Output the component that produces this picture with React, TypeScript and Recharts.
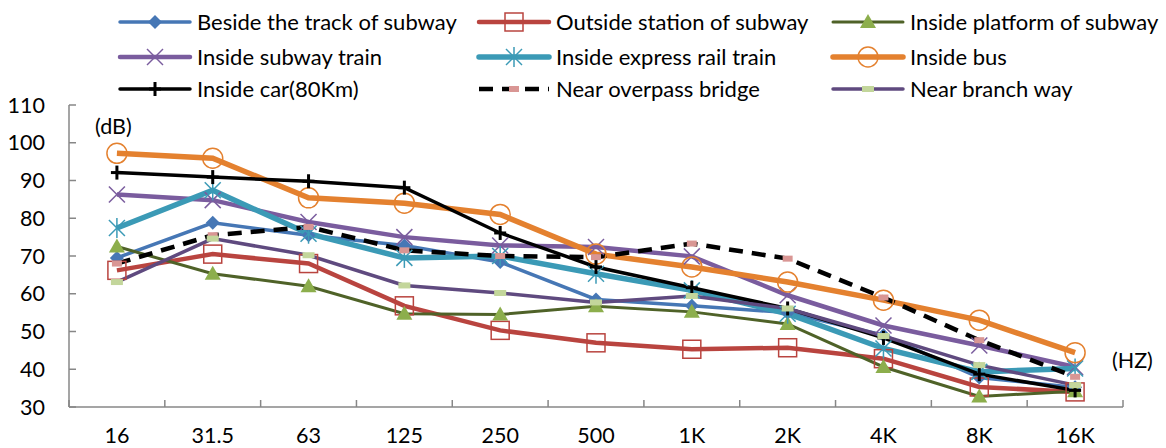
import React from 'react'
import { LineChart, Line, XAxis, YAxis } from 'recharts'

const categories = ['16', '31.5', '63', '125', '250', '500', '1K', '2K', '4K', '8K', '16K']
const besideTrack = [69.5, 78.8, 75.5, 72.8, 68.4, 58.5, 56.8, 55, 49, 37.8, 35.2]
const outsideStation = [66.2, 70.5, 68, 56.8, 50.3, 47, 45.3, 45.7, 42.8, 35.3, 34]
const insidePlatform = [72.5, 65.3, 62, 54.7, 54.5, 56.7, 55.2, 52, 40.6, 32.8, 34.2]
const insideSubway = [86.3, 84.8, 79, 75, 72.8, 72.4, 69.9, 59.6, 51.6, 46.3, 40.6]
const insideExpress = [77.4, 87.4, 75.9, 69.5, 70, 65.3, 60.9, 54.7, 45.5, 39.3, 40.2]
const insideBus = [97.2, 95.9, 85.4, 84, 81, 70.5, 67.1, 63.1, 58.3, 53, 44.4]
const insideCar = [92.1, 90.9, 89.8, 88.1, 76.1, 67.1, 61.6, 56.1, 48.3, 38.7, 34.4]
const nearOverpass = [68, 75.5, 77.7, 71.5, 70, 69.7, 73.3, 69.3, 59, 47.7, 38]
const nearBranch = [63.1, 74.6, 70.2, 62.2, 60.2, 57.7, 59.4, 56.1, 48.8, 41.1, 35.8]
const yTicks = [30, 40, 50, 60, 70, 80, 90, 100, 110]

const FONT = 'Lato, "Open Sans", sans-serif'
const W = 1166
const H = 448
const LEFT = 69
const RIGHT = 43
const TOP = 105
const BOTTOM = 41
const BAND = (W - LEFT - RIGHT) / categories.length
const AXIS = '#878787'
const TICK_GAP = 28

type Shape = 'diamond' | 'square' | 'triangle' | 'x' | 'star' | 'circle' | 'plus' | 'pink' | 'green'

const series = [
    { key: 'besideTrack', name: 'Beside the track of subway', values: besideTrack, color: '#4677b5', width: 3.5, shape: 'diamond' as Shape },
    { key: 'outsideStation', name: 'Outside station of subway', values: outsideStation, color: '#b9443f', width: 4.5, shape: 'square' as Shape },
    { key: 'insidePlatform', name: 'Inside platform of subway', values: insidePlatform, color: '#4f6228', width: 3, shape: 'triangle' as Shape },
    { key: 'insideSubway', name: 'Inside subway train', values: insideSubway, color: '#7a5c9e', width: 4.5, shape: 'x' as Shape },
    { key: 'insideExpress', name: 'Inside express rail train', values: insideExpress, color: '#3b9ab6', width: 5.5, shape: 'star' as Shape },
    { key: 'insideBus', name: 'Inside bus', values: insideBus, color: '#e4812f', width: 5.5, shape: 'circle' as Shape },
    { key: 'insideCar', name: 'Inside car(80Km)', values: insideCar, color: '#000000', width: 3.5, shape: 'plus' as Shape },
    { key: 'nearOverpass', name: 'Near overpass bridge', values: nearOverpass, color: '#000000', width: 4.5, shape: 'pink' as Shape, dash: '14 9' },
    { key: 'nearBranch', name: 'Near branch way', values: nearBranch, color: '#5f4a7f', width: 3.5, shape: 'green' as Shape },
]

const data = categories.map((c, i) => {
    const row: Record<string, string | number> = { freq: c }
    series.forEach((s) => {
        row[s.key] = s.values[i]
    })
    return row
})

const Marker = ({ cx, cy, shape, color }: { cx: number; cy: number; shape: Shape; color: string }) => {
    switch (shape) {
        case 'diamond':
            return <polygon points={`${cx},${cy - 7} ${cx + 7},${cy} ${cx},${cy + 7} ${cx - 7},${cy}`} fill={color} />
        case 'square':
            return <rect x={cx - 9} y={cy - 9} width={18} height={18} fill="none" stroke={color} strokeWidth={1.5} />
        case 'triangle':
            return <polygon points={`${cx},${cy - 8} ${cx + 8},${cy + 6} ${cx - 8},${cy + 6}`} fill="#8cae4c" />
        case 'x':
            return (
                <g stroke={color} strokeWidth={1.5}>
                    <line x1={cx - 8} y1={cy - 8} x2={cx + 8} y2={cy + 8} />
                    <line x1={cx - 8} y1={cy + 8} x2={cx + 8} y2={cy - 8} />
                </g>
            )
        case 'star':
            return (
                <g stroke={color} strokeWidth={1.5}>
                    <line x1={cx - 8} y1={cy - 8} x2={cx + 8} y2={cy + 8} />
                    <line x1={cx - 8} y1={cy + 8} x2={cx + 8} y2={cy - 8} />
                    <line x1={cx} y1={cy - 10} x2={cx} y2={cy + 10} />
                </g>
            )
        case 'circle':
            return <circle cx={cx} cy={cy} r={10} fill="none" stroke={color} strokeWidth={1.5} />
        case 'plus':
            return (
                <g stroke={color} strokeWidth={3}>
                    <line x1={cx - 6} y1={cy} x2={cx + 6} y2={cy} />
                    <line x1={cx} y1={cy - 7} x2={cx} y2={cy + 7} />
                </g>
            )
        case 'pink':
            return <rect x={cx - 5} y={cy - 3} width={10} height={6} fill="#d99694" />
        case 'green':
            return <rect x={cx - 6} y={cy - 3} width={12} height={6} fill="#c3d69b" />
    }
    return null
}

// eslint-disable-next-line @typescript-eslint/no-explicit-any
const YTick = ({ x, y, payload }: any) => (
    <g>
        <line x1={x + 24} x2={x + 31} y1={y} y2={y} stroke={AXIS} strokeWidth={1.5} />
        <text x={x} y={y} dy="0.36em" textAnchor="end" fontFamily={FONT} fontSize={21.5} fill="#000">
            {payload.value}
        </text>
    </g>
)

// eslint-disable-next-line @typescript-eslint/no-explicit-any
const XTick = ({ x, y, payload, index }: any) => {
    const axisY = y - TICK_GAP
    return (
        <g>
            {index === 0 && <line x1={x - BAND / 2} x2={x - BAND / 2} y1={axisY} y2={axisY - 7} stroke={AXIS} strokeWidth={1.5} />}
            <line x1={x + BAND / 2} x2={x + BAND / 2} y1={axisY} y2={axisY - 7} stroke={AXIS} strokeWidth={1.5} />
            <text x={x} y={y} dy="0.36em" textAnchor="middle" fontFamily={FONT} fontSize={21.5} fill="#000">
                {payload.value}
            </text>
        </g>
    )
}

const legendCols = [120, 479, 833]
const legendRows = [22, 57, 89]

const ChartLegend = () => (
    <svg width={W} height={110} style={{ position: 'absolute', left: 0, top: 0 }}>
        {series.map((s, i) => {
            const x = legendCols[i % 3]
            const y = legendRows[Math.floor(i / 3)]
            return (
                <g key={s.key}>
                    <line x1={x} x2={x + 70} y1={y} y2={y} stroke={s.color} strokeWidth={s.width} strokeDasharray={s.dash} strokeLinecap={s.dash ? 'butt' : 'round'} />
                    <Marker cx={x + 35} cy={y} shape={s.shape} color={s.color} />
                    <text x={x + 77} y={y} dy="0.36em" fontFamily={FONT} fontSize={22} fill="#000">
                        {s.name}
                    </text>
                </g>
            )
        })}
    </svg>
)

export default function App() {
    return (
        <div style={{ position: 'absolute', left: 0, top: 0, width: W, height: H, background: '#fff' }}>
            <LineChart width={W} height={H} data={data} margin={{ top: TOP, right: RIGHT, left: 0, bottom: 0 }}>
                <XAxis
                    dataKey="freq"
                    scale="band"
                    height={BOTTOM}
                    tick={<XTick />}
                    tickLine={false}
                    tickSize={0}
                    tickMargin={TICK_GAP}
                    interval={0}
                    axisLine={{ stroke: AXIS, strokeWidth: 1.5 }}
                />
                <YAxis
                    domain={[30, 110]}
                    ticks={yTicks}
                    width={LEFT}
                    tick={<YTick />}
                    tickLine={false}
                    tickSize={0}
                    tickMargin={24}
                    interval={0}
                    axisLine={{ stroke: AXIS, strokeWidth: 1.5 }}
                />
                {series.map((s) => (
                    <Line
                        key={s.key}
                        dataKey={s.key}
                        name={s.name}
                        type="linear"
                        stroke={s.color}
                        strokeWidth={s.width}
                        strokeDasharray={s.dash}
                        // eslint-disable-next-line @typescript-eslint/no-explicit-any
                        dot={(p: any) => <Marker key={`${s.key}-${p.index}`} cx={p.cx} cy={p.cy} shape={s.shape} color={s.color} />}
                        activeDot={false}
                        isAnimationActive={false}
                    />
                ))}
            </LineChart>
            <ChartLegend />
            <svg width={W} height={H} style={{ position: 'absolute', left: 0, top: 0, pointerEvents: 'none' }}>
                <text x={95} y={126} dy="0.36em" fontFamily={FONT} fontSize={21.5} fill="#000">(dB)</text>
                <text x={1112} y={360} dy="0.36em" fontFamily={FONT} fontSize={21.5} fill="#000">(HZ)</text>
            </svg>
        </div>
    )
}
